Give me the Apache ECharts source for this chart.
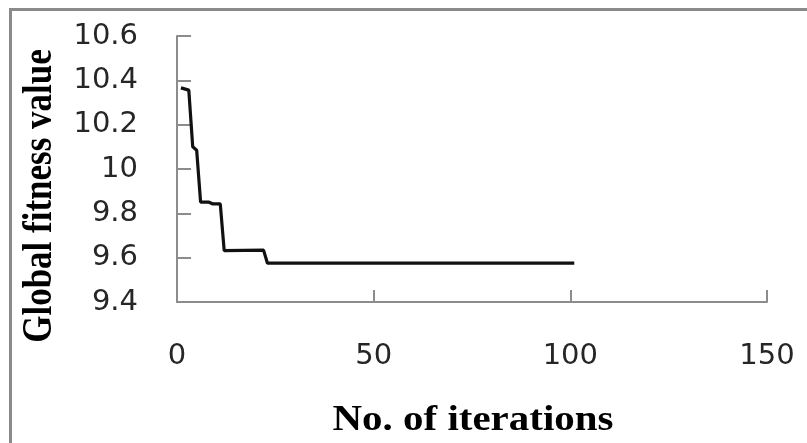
<!DOCTYPE html>
<html><head><meta charset="utf-8">
<script src="https://cdn.jsdelivr.net/npm/echarts@6/dist/echarts.min.js"></script>
<style>html,body{margin:0;padding:0;background:#fff}#c{width:807px;height:443px}</style>
</head><body><div id="c"></div>
<script>
// Data (iteration, global fitness value) breakpoints
var iterations = [1, 3, 4, 5, 6, 8, 9, 11, 12, 22, 23, 101];
var fitness = [10.366, 10.356, 10.10, 10.085, 9.851, 9.851, 9.843, 9.843, 9.632, 9.634, 9.575, 9.575];
var xTicks = [0, 50, 100, 150];
var yTicks = [9.4, 9.6, 9.8, 10, 10.2, 10.4, 10.6];
var xName = 'No. of iterations';
var yName = 'Global fitness value';

var pts = iterations.map(function (x, i) { return [x, fitness[i]]; });
var chart = echarts.init(document.getElementById('c'), null, { renderer: 'canvas' });
var lblFont = { fontFamily: 'DejaVu Sans', fontSize: 29, color: '#262626' };
chart.setOption({
  animation: false,
  grid: { left: 177, right: 40, top: 36, bottom: 141 },
  xAxis: {
    type: 'value', min: xTicks[0], max: xTicks[xTicks.length - 1], interval: 50,
    splitLine: { show: false },
    axisLine: { lineStyle: { color: '#8c8c8c', width: 2 } },
    axisTick: { inside: true, length: 12, lineStyle: { color: '#8c8c8c', width: 2 } },
    axisLabel: Object.assign({ margin: 40 }, lblFont)
  },
  yAxis: {
    type: 'value', min: yTicks[0], max: yTicks[yTicks.length - 1], interval: 0.2,
    splitLine: { show: false },
    axisLine: { show: true, lineStyle: { color: '#8c8c8c', width: 2 } },
    axisTick: { show: true, inside: true, length: 14, lineStyle: { color: '#8c8c8c', width: 2 } },
    axisLabel: Object.assign({ margin: 39, formatter: function (v) { return String(+v.toFixed(1)); } }, lblFont)
  },
  series: [{
    type: 'line', data: pts, showSymbol: false, symbol: 'none',
    lineStyle: { color: '#111', width: 3.2 }
  }],
  graphic: [
    { type: 'rect', shape: { x: 10.5, y: 9.5, width: 830, height: 460 }, style: { fill: 'none', stroke: '#8a8a8a', lineWidth: 3 }, silent: true },
    { type: 'text', x: 473, y: 421, scaleX: 1.17, style: { text: xName, font: 'bold 35px "Liberation Serif"', fill: '#000', textAlign: 'center', textVerticalAlign: 'middle' } },
    { type: 'text', x: 40, y: 196, rotation: Math.PI / 2, scaleY: 1.2, style: { text: yName, font: 'bold 35px "Liberation Serif"', fill: '#000', textAlign: 'center', textVerticalAlign: 'middle' } }
  ]
});
</script></body></html>
